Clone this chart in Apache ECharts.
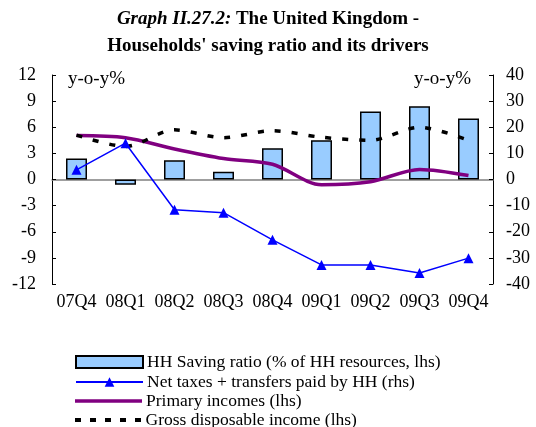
<!DOCTYPE html>
<html>
<head>
<meta charset="utf-8">
<script src="https://cdn.jsdelivr.net/npm/echarts@6/dist/echarts.min.js"></script>
<style>
  html, body { margin: 0; padding: 0; background: #fff; }
  #chart { width: 536px; height: 427px; }
</style>
</head>
<body>
<div id="chart"></div>
<script>
// quarters on the x axis
const quarters = ['07Q4', '08Q1', '08Q2', '08Q3', '08Q4', '09Q1', '09Q2', '09Q3', '09Q4']

// values
const savingRatio = [2.4, -0.6, 2.2, 0.9, 3.6, 4.5, 7.8, 8.4, 7.0]
const netTaxes = [3.7, 13.9, -11.6, -12.7, -23.1, -32.7, -32.7, -35.8, -30.1]
const primaryIncomes = [5.05, 4.8, 3.5, 2.4, 1.75, -0.6, -0.25, 1.15, 0.45]
const grossIncome = [5.1, 3.8, 5.7, 4.8, 5.6, 4.85, 4.5, 6.0, 4.5]

const seriesNames = [
    'HH Saving ratio (% of HH resources, lhs)',
    'Net taxes + transfers paid by HH (rhs)',
    'Primary incomes (lhs)',
    'Gross disposable income (lhs)',
]

const FONT = 'Liberation Serif'

const chart = echarts.init(document.getElementById('chart'))

/**
 * @description one legend row, stacked by hand under the plot
 */
const legendRow = (name, centerY, cfg = {}) => {
    const { icon, itemHeight = 12 } = cfg
    const rowH = 18
    return {
        orient: 'vertical',
        left: 75,
        top: centerY - rowH / 2,
        padding: 0,
        itemWidth: 67,
        itemHeight,
        itemGap: 0,
        selectedMode: false,
        textStyle: { fontFamily: FONT, fontSize: 17.5, color: '#000', padding: [0, 0, 0, -1], lineHeight: rowH },
        data: [icon ? { name, icon } : name],
    }
}

const dashIcon = 'path://M0,0h6v4h-6z M15,0h6v4h-6z M30,0h6v4h-6z M45,0h6v4h-6z M60,0h6v4h-6z'

const option = {
    animation: false,
    textStyle: { fontFamily: FONT },
    title: {
        left: 'center',
        top: 1,
        text: '{i|Graph II.27.2:} {b|The United Kingdom -}\n{b|Households\' saving ratio and its drivers}',
        textStyle: {
            rich: {
                i: { fontFamily: FONT, fontStyle: 'italic', fontSize: 19, color: '#000', lineHeight: 27 },
                b: { fontFamily: FONT, fontWeight: 'bold', fontSize: 19, color: '#000', lineHeight: 27 },
            },
        },
    },
    grid: { left: 52, right: 43, top: 75, bottom: 143, containLabel: false },
    legend: [
        legendRow(seriesNames[0], 362, { icon: 'rect' }),
        legendRow(seriesNames[1], 382),
        legendRow(seriesNames[2], 401, { icon: 'path://M0,0h67v3.5h-67z', itemHeight: 3.5 }),
        legendRow(seriesNames[3], 420, { icon: dashIcon, itemHeight: 4 }),
    ],
    xAxis: [
        {
            // zero line with ticks between categories
            type: 'category',
            data: quarters,
            axisLine: { onZero: true, lineStyle: { color: '#808080', width: 1.5 } },
            axisTick: { inside: true, length: 5, lineStyle: { color: '#808080' } },
            axisLabel: { show: false },
        },
        {
            // labels at the bottom
            type: 'category',
            data: quarters,
            position: 'bottom',
            axisLine: { show: false },
            axisTick: { show: false },
            axisLabel: { interval: 0, fontFamily: FONT, fontSize: 18, color: '#000', margin: 9 },
        },
    ],
    yAxis: [
        {
            type: 'value',
            min: -12, max: 12, interval: 3,
            splitLine: { show: false },
            axisLine: { show: true, lineStyle: { color: '#000' } },
            axisTick: { show: true, inside: true, length: 4, lineStyle: { color: '#000' } },
            axisLabel: { fontFamily: FONT, fontSize: 18, color: '#000', margin: 16 },
        },
        {
            type: 'value',
            min: -40, max: 40, interval: 10,
            splitLine: { show: false },
            axisLine: { show: true, lineStyle: { color: '#000' } },
            axisTick: { show: true, inside: true, length: 4, lineStyle: { color: '#000' } },
            axisLabel: { fontFamily: FONT, fontSize: 18, color: '#000', margin: 13 },
        },
    ],
    graphic: [
        { type: 'text', left: 68, top: 70, style: { text: 'y-o-y%', fontFamily: FONT, fontSize: 19, fill: '#000' } },
        { type: 'text', left: 414, top: 70, style: { text: 'y-o-y%', fontFamily: FONT, fontSize: 19, fill: '#000' } },
    ],
    series: [
        {
            name: seriesNames[0],
            type: 'bar',
            data: savingRatio,
            barWidth: 21,
            itemStyle: { color: '#99ccff', borderColor: '#000', borderWidth: 1.5 },
        },
        {
            name: seriesNames[1],
            type: 'line',
            yAxisIndex: 1,
            data: netTaxes,
            symbol: 'triangle',
            symbolSize: 10,
            lineStyle: { color: '#0000ff', width: 1.5 },
            itemStyle: { color: '#0000ff' },
        },
        {
            name: seriesNames[2],
            type: 'line',
            data: primaryIncomes,
            smooth: 0.3,
            symbol: 'none',
            lineStyle: { color: '#800080', width: 3.5 },
            itemStyle: { color: '#800080' },
        },
        {
            name: seriesNames[3],
            type: 'line',
            data: grossIncome,
            smooth: 0.3,
            symbol: 'none',
            lineStyle: { color: '#000', width: 3.5, type: [6, 11] },
            itemStyle: { color: '#000' },
        },
    ],
}

chart.setOption(option)
</script>
</body>
</html>
